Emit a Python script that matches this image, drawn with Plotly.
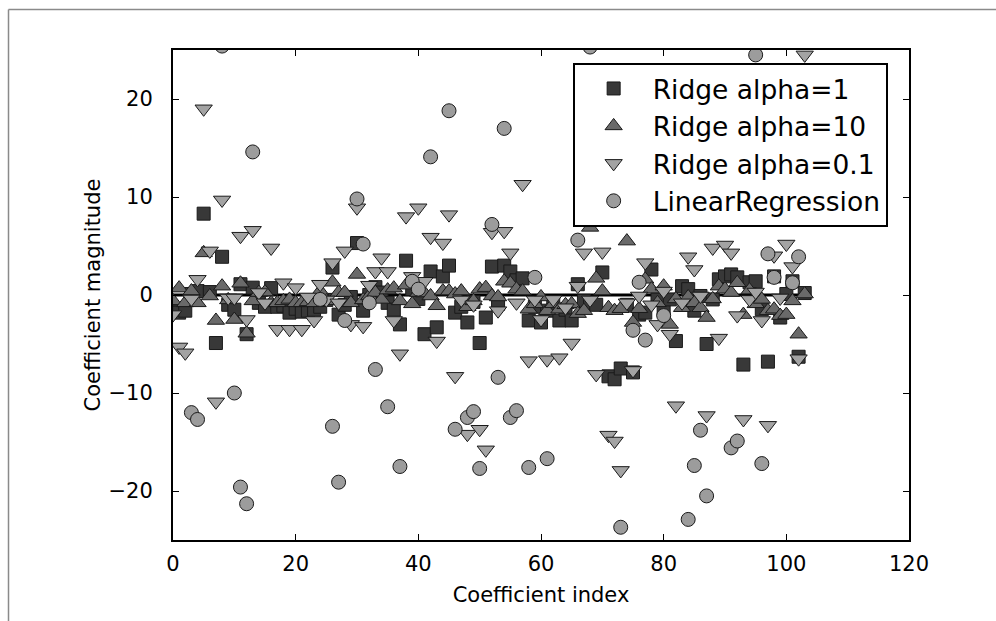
import plotly.graph_objects as go

# Coefficient values (index 0..103)
ridge1 = [
    -1.5, -1.8, -1.6, 0.1, 0.4, 8.3, 0.3, -4.9, 3.9, -1.0,
    -1.5, 1.1, -4.0, 0.75, -0.8, -1.2, 0.7, -1.2, -1.1, -1.8,
    -1.4, -1.7, -1.6, -1.5, -1.2, -0.5, 2.8, -2.0, -1.0, -0.2,
    5.3, -1.6, 0.0, 0.8, 0.25, -0.8, -1.5, -3.0, 3.5, 0.6,
    -0.4, -4.0, 2.4, -3.3, 1.9, 3.0, -1.8, -1.2, -2.8, -0.7,
    -4.9, -2.3, 2.9, -0.9, 3.0, 2.4, 1.5, 1.7, -2.6, -1.2,
    -2.8, -1.6, -0.9, -2.6, -1.5, -2.6, 1.1, -0.6, -0.9, -1.0,
    2.3, -8.3, -8.6, -7.5, -1.0, -7.9, -2.0, -1.8, 2.6, -0.45,
    -1.5, -0.45, -4.7, 0.9, 0.6, -1.6, -0.1, -5.0, -0.45, 1.6,
    1.9, 2.1, 1.8, -7.1, 1.3, 1.4, -1.45, -6.8, 1.9, -2.3,
    0.1, 1.4, -6.3, 0.2,
]

ridge10 = [
    -0.6, 0.7, -0.8, 0.4, -0.8, 4.3, -0.1, -2.6, 0.9, -0.5,
    -2.5, 1.2, -3.9, -0.6, 0.25, 0.3, -0.8, -0.8, -0.6, -0.45,
    -0.8, -0.8, -0.7, -0.8, 0.4, -0.6, 1.3, 0.25, 0.25, -0.8,
    2.1, -0.5, -0.1, 0.25, -0.45, 0.5, 0.7, -0.6, 1.0, -0.9,
    0.25, 0.2, -0.1, -1.1, 0.4, 0.4, 0.1, 0.4, -1.2, -0.6,
    0.6, 0.75, -0.1, -0.2, 1.4, 1.2, 0.6, 0.4, -1.45, -0.9,
    -0.2, -1.6, -0.9, -1.45, -1.0, -0.9, -1.9, -1.6, 6.9, 1.7,
    0.4, -1.3, -1.6, -1.4, 5.5, -2.8, -1.4, 1.6, 0.6, -0.8,
    0.9, -3.0, -0.4, -1.3, -0.2, -0.8, -1.3, -2.3, -0.4, 0.9,
    0.6, 0.25, 1.25, -2.0, 0.5, -0.9, -0.45, -1.6, -1.45, -2.1,
    -2.0, -0.6, -4.0, 0.1,
]

ridge01 = [
    -2.0, -5.3, -5.9, -0.4, 1.6, 19.0, 4.5, -10.9, 9.7, -0.3,
    -0.3, 6.0, -2.5, 6.6, 0.25, -0.8, 4.8, -3.5, 1.25, -3.5,
    0.75, -3.5, -0.2, -2.6, 1.1, -0.5, 3.3, -0.8, 4.5, -3.0,
    8.9, -3.2, 1.0, 2.4, 3.8, 2.4, -2.6, -6.0, 8.0, 1.9,
    8.9, 1.4, 5.9, -4.7, 5.3, 8.2, -8.3, -0.5, -14.2, -1.0,
    -13.7, -15.8, 6.4, -1.6, 6.5, 4.3, -0.8, 11.3, -6.7, -0.5,
    -2.5, -6.6, -0.45, -6.4, -1.3, -4.9, 0.9, 4.3, -0.5, -8.1,
    4.4, -14.3, -14.9, -17.9, -0.8, -7.7, -0.1, 3.3, -1.0, -3.0,
    0.4, -4.0, -11.3, -0.8, 3.9, 2.6, -0.1, -12.3, 4.8, -4.4,
    5.1, 4.3, -2.1, -12.7, -0.45, 0.3, -2.6, -13.3, 4.0, -0.3,
    5.2, 2.9, -6.5, 24.5,
]

linreg = [
    -41, 36, -28, -12.0, -12.7, 52, -33, 30, 25.4, -47,
    -10.0, -19.6, -21.3, 14.6, 38, -55, 29, -36, 44, -31,
    62, -40, 27, -58, -0.45, 33, -13.4, -19.1, -2.6, -45,
    9.8, 5.2, -0.8, -7.6, 41, -11.4, -29, -17.5, 57, 1.4,
    0.6, -38, 14.1, 35, -49, 18.8, -13.7, 31, -12.5, -11.9,
    -17.7, -27, 7.2, -8.4, 17.0, -12.5, -11.8, 46, -17.6, 1.8,
    -34, -16.7, 28, -52, 39, -30, 5.6, 43, 25.3, -37,
    26, -44, 34, -23.7, -27, -3.6, 1.3, -4.6, 50, -32,
    -2.1, 37, -61, 29, -22.9, -17.4, -13.8, -20.5, 40, -28,
    35, -15.6, -14.9, -46, 31, 24.5, -17.2, 4.2, 1.8, -39,
    48, 1.25, 3.9, -26,
]

series = [
    ("Ridge alpha=1", ridge1, "square", "#383838", 13),
    ("Ridge alpha=10", ridge10, "triangle-up", "#6a6a6a", 15),
    ("Ridge alpha=0.1", ridge01, "triangle-down", "#a3a3a3", 15),
    ("LinearRegression", linreg, "circle", "#9c9c9c", 14),
]

n = len(linreg)
fig = go.Figure()
# horizontal zero line (drawn beneath the markers, as in the reference)
fig.add_trace(go.Scatter(x=[0, n], y=[0, 0], mode="lines",
                         line=dict(color="black", width=3),
                         showlegend=False, hoverinfo="skip"))
for name, vals, sym, col, sz in series:
    fig.add_trace(go.Scatter(
        x=list(range(len(vals))), y=vals, mode="markers", name=name,
        marker=dict(symbol=sym, color=col, size=sz,
                    line=dict(color="#1a1a1a", width=1)),
        cliponaxis=True,
    ))

font = "DejaVu Sans"
axis_common = dict(
    showline=True, linecolor="black", linewidth=2, mirror="ticks",
    ticks="inside", ticklen=6, tickwidth=1, tickcolor="black",
    showgrid=False, zeroline=False,
    tickfont=dict(family=font, size=21, color="black"),
)

fig.update_xaxes(range=[0, 120], tickvals=[0, 20, 40, 60, 80, 100, 120],
                 title=dict(text="Coefficient index", standoff=12,
                            font=dict(family=font, size=21, color="black")),
                 ticklabelstandoff=4, **axis_common)
fig.update_yaxes(range=[-25, 25], tickvals=[-20, -10, 0, 10, 20],
                 title=dict(text="Coefficient magnitude", standoff=2,
                            font=dict(family=font, size=21, color="black")),
                 ticklabelstandoff=14, **axis_common)

fig.update_layout(
    width=996, height=621,
    margin=dict(l=173, r=87, t=50, b=81),
    paper_bgcolor="white", plot_bgcolor="white",
    font=dict(family=font, color="black"),
    legend=dict(x=0.543, y=0.974, xanchor="left", yanchor="top",
                bgcolor="white", bordercolor="black", borderwidth=2,
                font=dict(family=font, size=26.5, color="black"),
                itemwidth=68),
    shapes=[
        dict(type="line", xref="paper", yref="paper",
             x0=-0.2235, x1=1.2, y0=1.0827, y1=1.0827,
             line=dict(color="#8a8a8a", width=1.5)),
        dict(type="line", xref="paper", yref="paper",
             x0=-0.2235, x1=-0.2235, y0=1.0827, y1=-0.2,
             line=dict(color="#8a8a8a", width=1.5)),
    ],
)

fig.write_html("out.html")
